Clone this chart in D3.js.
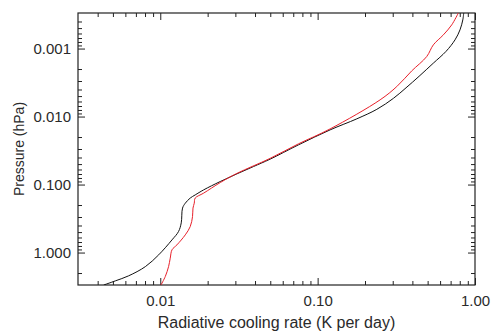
<!DOCTYPE html>
<html>
<head>
<meta charset="utf-8">
<script src="https://cdn.jsdelivr.net/npm/d3@7"></script>
<style>
  body { margin: 0; background: #fff; }
  svg text { font-family: "Liberation Sans", Arial, sans-serif; fill: #2a2a2a; }
  .axis path { display: none; }
  .axis line { stroke: #222; }
</style>
</head>
<body>
<div id="chart"></div>
<script>
// cooling rate (K per day) vs pressure (hPa)
var blackRate = [0.00437, 0.00518, 0.00629, 0.00804, 0.00977, 0.01187, 0.01306, 0.01359, 0.01385, 0.01442,
	0.0155, 0.01667, 0.01883, 0.02404, 0.03069, 0.03909, 0.04991, 0.0755, 0.12, 0.1774,
	0.2377, 0.303, 0.3645, 0.441, 0.5434, 0.6545, 0.7464, 0.8029, 0.8365, 0.8478];
var blackPres = [3.0, 2.61, 2.2, 1.61, 1.08, 0.651, 0.491, 0.366, 0.222, 0.188,
	0.158, 0.142, 0.12, 0.0903, 0.0696, 0.0544, 0.0423, 0.0261, 0.0157, 0.0108,
	0.00783, 0.0054, 0.00378, 0.00256, 0.00164, 0.0011, 0.000745, 0.000531, 0.000379, 0.0003];

var redRate = [0.0101, 0.01076, 0.01129, 0.01157, 0.01187, 0.01276, 0.01442, 0.0155, 0.01603, 0.01614,
	0.01644, 0.01667, 0.01883, 0.02404, 0.0307, 0.0499, 0.0755, 0.12, 0.2494, 0.3184,
	0.3963, 0.4935, 0.5434, 0.6295, 0.7115, 0.7835];
var redPres = [3.0, 2.25, 1.61, 1.21, 0.912, 0.771, 0.549, 0.415, 0.296, 0.222,
	0.188, 0.158, 0.134, 0.0935, 0.0685, 0.0412, 0.0252, 0.0152, 0.00568, 0.00362,
	0.00213, 0.00131, 0.000883, 0.000629, 0.000448, 0.0003];

var xTicks = [0.01, 0.1, 1];
var xTickLabels = ["0.01", "0.10", "1.00"];
var yTicks = [0.001, 0.01, 0.1, 1];
var yTickLabels = ["0.001", "0.010", "0.100", "1.000"];

var chart = {
	width: 492,
	height: 331,
	margin: { top: 13, right: 17, bottom: 46, left: 78 }
};
chart.innerW = chart.width - chart.margin.left - chart.margin.right;
chart.innerH = chart.height - chart.margin.top - chart.margin.bottom;

var svg = d3.select("#chart").append("svg")
	.attr("width", chart.width)
	.attr("height", chart.height);

var g = svg.append("g")
	.attr("transform", "translate(" + chart.margin.left + "," + chart.margin.top + ")");

// Scales
var xScale = d3.scaleLog().domain([0.003, 1]).range([0, chart.innerW]);
var yScale = d3.scaleLog().domain([0.0003, 3]).range([0, chart.innerH]);

// minor ticks: 2..9 of each decade inside the domain
function minorTicks(lo, hi) {
	var out = [];
	for (var e = -5; e <= 1; e++) {
		for (var m = 2; m <= 9; m++) {
			var v = m * Math.pow(10, e);
			if (v > lo * 1.0001 && v < hi * 0.9999) out.push(v);
		}
	}
	return out;
}
var xMinor = minorTicks(0.003, 1);
var yMinor = minorTicks(0.0003, 3);

// Axes (ticks point inward on all four sides)
g.append("g").attr("class", "axis")
	.attr("transform", "translate(0," + chart.innerH + ")")
	.call(d3.axisBottom(xScale).tickValues(xTicks).tickSize(-7).tickPadding(10)
		.tickFormat(function(d, i) { return xTickLabels[i]; }))
	.selectAll("text").style("font-size", "15px");
g.append("g").attr("class", "axis")
	.attr("transform", "translate(0," + chart.innerH + ")")
	.call(d3.axisBottom(xScale).tickValues(xMinor).tickSize(-4).tickFormat(""));
g.append("g").attr("class", "axis")
	.call(d3.axisTop(xScale).tickValues(xTicks).tickSize(-7).tickFormat(""));
g.append("g").attr("class", "axis")
	.call(d3.axisTop(xScale).tickValues(xMinor).tickSize(-4).tickFormat(""));

g.append("g").attr("class", "axis")
	.call(d3.axisLeft(yScale).tickValues(yTicks).tickSize(-7).tickPadding(7)
		.tickFormat(function(d, i) { return yTickLabels[i]; }))
	.selectAll("text").style("font-size", "15px");
g.append("g").attr("class", "axis")
	.call(d3.axisLeft(yScale).tickValues(yMinor).tickSize(-4).tickFormat(""));
g.append("g").attr("class", "axis")
	.attr("transform", "translate(" + chart.innerW + ",0)")
	.call(d3.axisRight(yScale).tickValues(yTicks).tickSize(-7).tickFormat(""));
g.append("g").attr("class", "axis")
	.attr("transform", "translate(" + chart.innerW + ",0)")
	.call(d3.axisRight(yScale).tickValues(yMinor).tickSize(-4).tickFormat(""));

// frame
g.append("rect")
	.attr("width", chart.innerW)
	.attr("height", chart.innerH)
	.attr("fill", "none")
	.attr("stroke", "#222")
	.attr("stroke-width", 1.2);

// Lines
var line = d3.line()
	.x(function(d) { return xScale(d[0]); })
	.y(function(d) { return yScale(d[1]); })
	.curve(d3.curveCatmullRom.alpha(0.5));

var blackData = d3.zip(blackRate, blackPres);
var redData = d3.zip(redRate, redPres);

var clip = g.append("clipPath").attr("id", "clip")
	.append("rect").attr("width", chart.innerW).attr("height", chart.innerH);

g.append("path")
	.datum(blackData)
	.attr("d", line)
	.attr("fill", "none")
	.attr("stroke", "#111")
	.attr("stroke-width", 1)
	.attr("clip-path", "url(#clip)");

g.append("path")
	.datum(redData)
	.attr("d", line)
	.attr("fill", "none")
	.attr("stroke", "#e8202a")
	.attr("stroke-width", 1)
	.attr("clip-path", "url(#clip)");

// Axis titles
svg.append("text")
	.attr("x", chart.margin.left + chart.innerW / 2)
	.attr("y", 328)
	.attr("text-anchor", "middle")
	.style("font-size", "16px")
	.text("Radiative cooling rate (K per day)");

svg.append("text")
	.attr("transform", "translate(24," + (chart.margin.top + chart.innerH / 2) + ") rotate(-90)")
	.attr("text-anchor", "middle")
	.style("font-size", "14px")
	.text("Pressure (hPa)");
</script>
</body>
</html>
